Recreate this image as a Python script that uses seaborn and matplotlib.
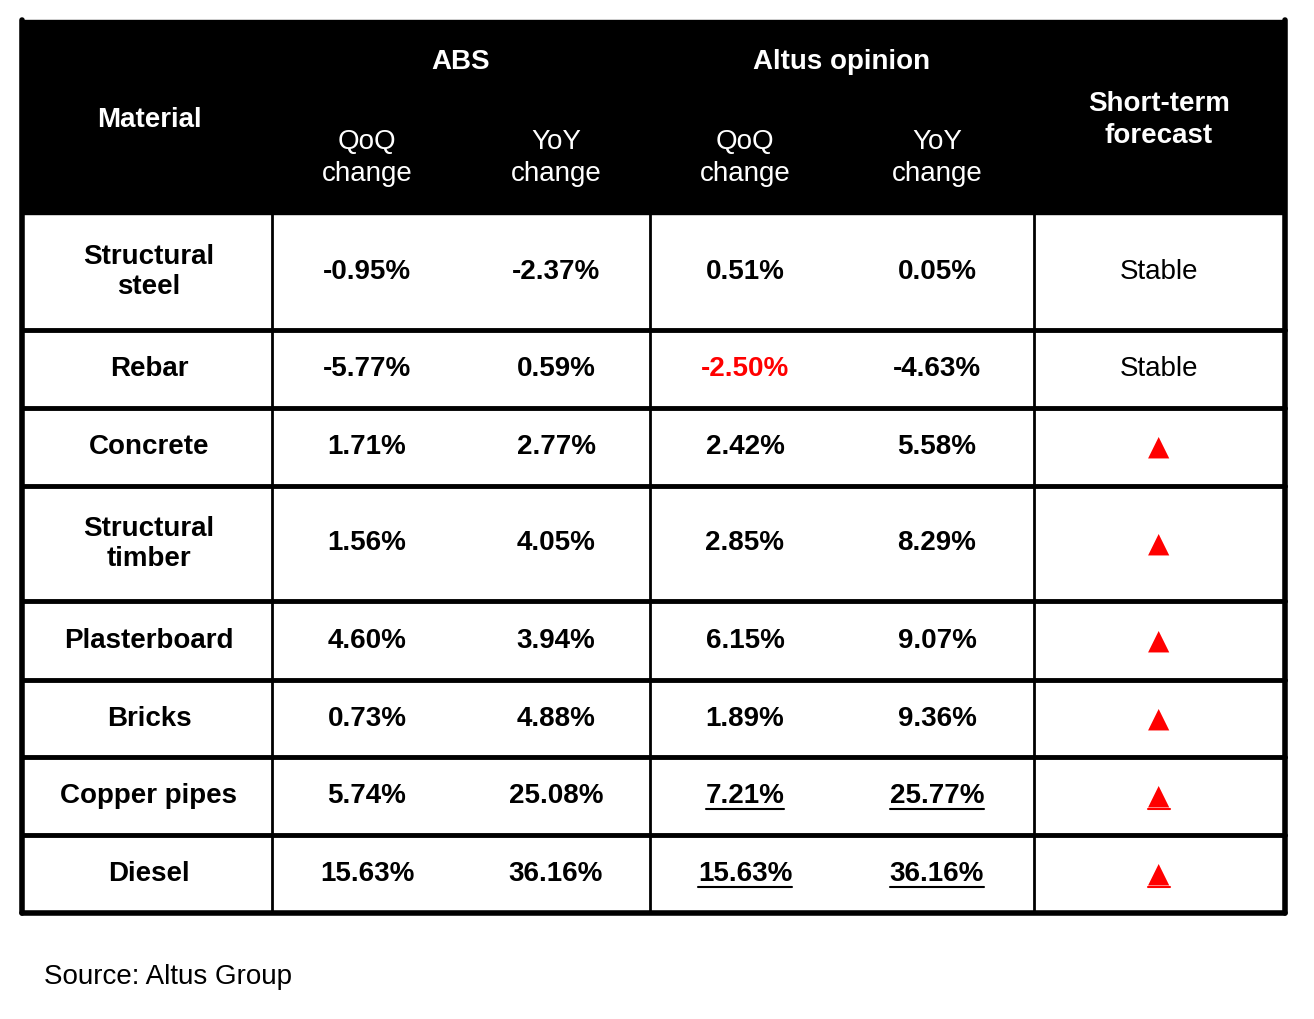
import matplotlib
matplotlib.use("Agg")
import matplotlib.pyplot as plt
import seaborn as sns

sns.set_theme(style="white")
plt.rcParams['font.family'] = ['Liberation Sans', 'DejaVu Sans']

materials = ["Structural\nsteel", "Rebar", "Concrete", "Structural\ntimber",
             "Plasterboard", "Bricks", "Copper pipes", "Diesel"]
abs_qoq = ["-0.95%", "-5.77%", "1.71%", "1.56%", "4.60%", "0.73%", "5.74%", "15.63%"]
abs_yoy = ["-2.37%", "0.59%", "2.77%", "4.05%", "3.94%", "4.88%", "25.08%", "36.16%"]
alt_qoq = ["0.51%", "-2.50%", "2.42%", "2.85%", "6.15%", "1.89%", "7.21%", "15.63%"]
alt_yoy = ["0.05%", "-4.63%", "5.58%", "8.29%", "9.07%", "9.36%", "25.77%", "36.16%"]
forecast = ["Stable", "Stable", "▲", "▲", "▲", "▲", "▲", "▲"]
underlined_rows = [6, 7]
red_cells = [(1, 3)]

W, H = 1314, 1019
fig = plt.figure(figsize=(W / 100, H / 100), dpi=100)
ax = fig.add_axes([0, 0, 1, 1])
ax.set_xlim(0, W); ax.set_ylim(H, 0); ax.axis("off")

x0, x1, x2, x3, x4 = 22, 272, 650, 1034, 1285
cx = [149, 367, 556, 745, 937, 1159]
rows = [214, 330, 408, 486, 601, 680, 757, 835, 913]
top = 20
fs = 20

ax.add_patch(plt.Rectangle((x0, top), x4 - x0, rows[0] - top, color="black", zorder=1))
hk = dict(color="white", ha="center", va="center", fontsize=fs)
ax.text(cx[0], 120, "Material", fontweight="bold", **hk)
ax.text(461, 62, "ABS", fontweight="bold", **hk)
ax.text(842, 62, "Altus opinion", fontweight="bold", **hk)
for c in cx[1:5]:
    pass
ax.text(cx[1], 158, "QoQ\nchange", linespacing=1.3, **hk)
ax.text(cx[2], 158, "YoY\nchange", linespacing=1.3, **hk)
ax.text(cx[3], 158, "QoQ\nchange", linespacing=1.3, **hk)
ax.text(cx[4], 158, "YoY\nchange", linespacing=1.3, **hk)
ax.text(cx[5], 120, "Short-term\nforecast", fontweight="bold", linespacing=1.3, **hk)

# grid lines
for y in rows[1:-1]:
    ax.plot([x0, x4], [y, y], color="black", lw=3.5, zorder=3)
ax.plot([x0, x4], [rows[-1], rows[-1]], color="black", lw=4, zorder=3)
for x in [x0, x4]:
    ax.plot([x, x], [top, rows[-1]], color="black", lw=4, zorder=3)
for x in [x1, x2, x3]:
    ax.plot([x, x], [rows[0], rows[-1]], color="black", lw=2, zorder=3)

fig.canvas.draw()
r = fig.canvas.get_renderer()
inv = ax.transData.inverted()
for i in range(len(materials)):
    yc = (rows[i] + rows[i + 1]) / 2
    vals = [materials[i], abs_qoq[i], abs_yoy[i], alt_qoq[i], alt_yoy[i], forecast[i]]
    for j, v in enumerate(vals):
        col = "red" if (i, j) in red_cells or v == "▲" else "black"
        weight = "normal" if v == "Stable" else "bold"
        fam = ['DejaVu Sans'] if v == "▲" else ['Liberation Sans', 'DejaVu Sans']
        t = ax.text(cx[j], yc, v, ha="center", va="center", fontsize=fs, color=col,
                    fontweight=weight, family=fam, linespacing=1.2)
        if i in underlined_rows and j >= 3:
            bb = t.get_window_extent(r)
            (a, b), (c, d) = inv.transform([[bb.x0, bb.y0], [bb.x1, bb.y1]])
            ax.plot([a, c], [yc + 13, yc + 13], color=col, lw=1.5)

ax.text(44, 977, "Source: Altus Group", ha="left", va="center", fontsize=20, color="black")
fig.savefig("out.png", dpi=100, facecolor="white")
